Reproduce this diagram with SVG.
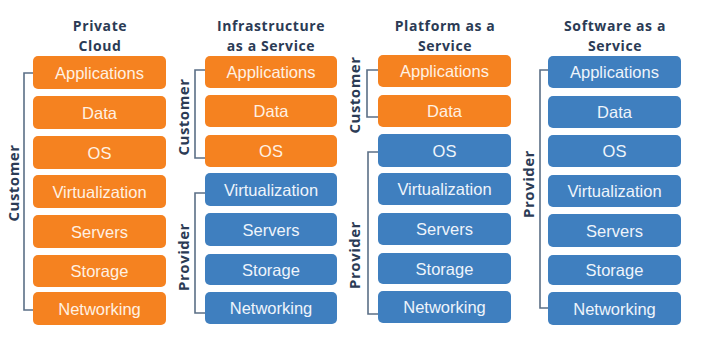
<svg xmlns="http://www.w3.org/2000/svg" width="710" height="340" viewBox="0 0 710 340">
<style>
.t{font-family:"Open Sans","Liberation Sans",sans-serif;font-weight:bold;font-size:14px;letter-spacing:0.6px;fill:#2b3b55;text-anchor:middle}
.o{fill:#f58220}
.b{fill:#3f7fbf}
.l{font-family:"Liberation Sans",Arial,sans-serif;font-size:16.5px;text-anchor:middle;dominant-baseline:central}
.lo{fill:#fff1e3}
.lb{fill:#eef4fb}
.br{fill:none;stroke:#5b6f86;stroke-width:1.6}
.side{font-family:"Open Sans","Liberation Sans",sans-serif;font-weight:bold;font-size:15px;letter-spacing:0.5px;fill:#2b3b55;text-anchor:middle;dominant-baseline:central}
</style>
<rect width="710" height="340" fill="#ffffff"/>

<g id="col-private">
<text class="t" x="100" y="31">Private</text>
<text class="t" x="100" y="50.5">Cloud</text>
<rect class="o" x="33" y="56" width="133" height="33" rx="5"/><text class="l lo" x="99.5" y="73">Applications</text>
<rect class="o" x="33" y="96" width="133" height="33" rx="5"/><text class="l lo" x="99.5" y="113">Data</text>
<rect class="o" x="33" y="136" width="133" height="33" rx="5"/><text class="l lo" x="99.5" y="153">OS</text>
<rect class="o" x="33" y="175" width="133" height="33" rx="5"/><text class="l lo" x="99.5" y="192">Virtualization</text>
<rect class="o" x="33" y="215" width="133" height="33" rx="5"/><text class="l lo" x="99.5" y="232">Servers</text>
<rect class="o" x="33" y="255" width="133" height="32" rx="5"/><text class="l lo" x="99.5" y="271">Storage</text>
<rect class="o" x="33" y="292" width="133" height="33" rx="5"/><text class="l lo" x="99.5" y="309">Networking</text>
</g>

<g id="col-iaas">
<text class="t" x="271" y="31">Infrastructure</text>
<text class="t" x="271" y="50.5">as a Service</text>
<rect class="o" x="205" y="56" width="132" height="32" rx="5"/><text class="l lo" x="271" y="72">Applications</text>
<rect class="o" x="205" y="95" width="132" height="32" rx="5"/><text class="l lo" x="271" y="111">Data</text>
<rect class="o" x="205" y="135" width="132" height="32" rx="5"/><text class="l lo" x="271" y="151">OS</text>
<rect class="b" x="205" y="173" width="132" height="33" rx="5"/><text class="l lb" x="271" y="190">Virtualization</text>
<rect class="b" x="205" y="213" width="132" height="33" rx="5"/><text class="l lb" x="271" y="230">Servers</text>
<rect class="b" x="205" y="254" width="132" height="31" rx="5"/><text class="l lb" x="271" y="270">Storage</text>
<rect class="b" x="205" y="292" width="132" height="32" rx="5"/><text class="l lb" x="271" y="308">Networking</text>
</g>

<g id="col-paas">
<text class="t" x="445" y="31">Platform as a</text>
<text class="t" x="445" y="50.5">Service</text>
<rect class="o" x="378" y="55" width="133" height="32" rx="5"/><text class="l lo" x="444.5" y="71">Applications</text>
<rect class="o" x="378" y="95" width="133" height="32" rx="5"/><text class="l lo" x="444.5" y="111">Data</text>
<rect class="b" x="378" y="134" width="133" height="33" rx="5"/><text class="l lb" x="444.5" y="151">OS</text>
<rect class="b" x="378" y="173" width="133" height="32" rx="5"/><text class="l lb" x="444.5" y="189">Virtualization</text>
<rect class="b" x="378" y="213" width="133" height="32" rx="5"/><text class="l lb" x="444.5" y="229">Servers</text>
<rect class="b" x="378" y="253" width="133" height="31" rx="5"/><text class="l lb" x="444.5" y="269">Storage</text>
<rect class="b" x="378" y="291" width="133" height="32" rx="5"/><text class="l lb" x="444.5" y="307">Networking</text>
</g>

<g id="col-saas">
<text class="t" x="615" y="31">Software as a</text>
<text class="t" x="615" y="50.5">Service</text>
<rect class="b" x="548" y="56" width="133" height="32" rx="5"/><text class="l lb" x="614.5" y="72">Applications</text>
<rect class="b" x="548" y="96" width="133" height="32" rx="5"/><text class="l lb" x="614.5" y="112">Data</text>
<rect class="b" x="548" y="135" width="133" height="32" rx="5"/><text class="l lb" x="614.5" y="151">OS</text>
<rect class="b" x="548" y="175" width="133" height="32" rx="5"/><text class="l lb" x="614.5" y="191">Virtualization</text>
<rect class="b" x="548" y="214" width="133" height="33" rx="5"/><text class="l lb" x="614.5" y="231">Servers</text>
<rect class="b" x="548" y="255" width="133" height="30" rx="5"/><text class="l lb" x="614.5" y="270">Storage</text>
<rect class="b" x="548" y="292" width="133" height="33" rx="5"/><text class="l lb" x="614.5" y="309">Networking</text>
</g>

<g id="brackets">
<path class="br" d="M33 73H24V310H33"/>
<path class="br" d="M205 70H195V158H205"/>
<path class="br" d="M205 193H195V313H205"/>
<path class="br" d="M378 70H367V117H378"/>
<path class="br" d="M378 152H368V314H378"/>
<path class="br" d="M548 70H540V308H548"/>
</g>

<g id="side-labels">
<text class="side" transform="translate(13,183) rotate(-90)">Customer</text>
<text class="side" transform="translate(183,117) rotate(-90)">Customer</text>
<text class="side" transform="translate(183,257) rotate(-90)">Provider</text>
<text class="side" transform="translate(354,95) rotate(-90)">Customer</text>
<text class="side" transform="translate(354,255) rotate(-90)">Provider</text>
<text class="side" transform="translate(528,184) rotate(-90)">Provider</text>
</g>
</svg>
